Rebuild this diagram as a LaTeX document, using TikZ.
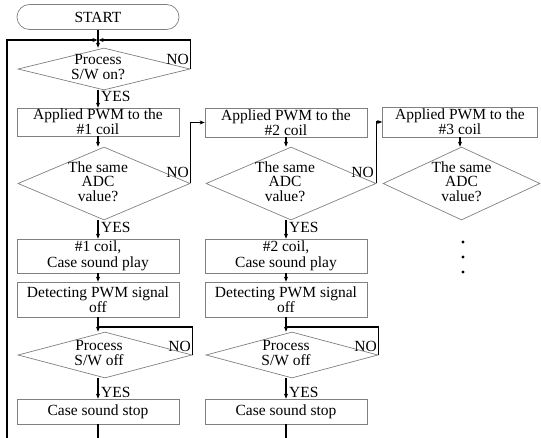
\documentclass[tikz,border=0pt]{standalone}
\usepackage{fontspec}
\setmainfont{Liberation Serif}
\usetikzlibrary{arrows.meta,shapes.geometric}
\newcommand{\dtxt}[2][12pt]{\begin{tabular}{@{}c@{\hspace{#1}}}#2\end{tabular}}

\begin{document}
\begin{tikzpicture}[x=1pt,y=-1pt,>={Stealth[length=5pt,width=4pt]},
  font=\fontsize{15.5}{13.5}\selectfont,
  flow/.style={line width=1.2pt},
  stepbox/.style={draw=black!50,line width=0.7pt,minimum width=162,inner sep=0pt,align=center},
  widebox/.style={stepbox,font=\fontsize{15.5}{15.5}\selectfont},
  decision/.style={diamond,draw=black!50,line width=0.7pt,inner sep=0pt,inner ysep=-3pt},
  tag/.style={inner sep=0pt}]
  \useasboundingbox (0,0) rectangle (541,438);
  % first coil
  \node[stepbox,rounded corners=12.5pt,minimum height=25] (start) at (98,17) {START};
  \node[decision,aspect=4,minimum width=172,minimum height=42] (d1) at (104,69) {\dtxt{Process\\S/W on?}};
  \node[stepbox,minimum height=28] (b1) at (98,122) {Applied PWM to the\\\#1 coil};
  \node[decision,aspect=2.4,minimum width=172,minimum height=73] (d2) at (104,183.5) {\dtxt{The same\\ADC\\value?}};
  \node[widebox,minimum height=34] (b3) at (98,256) {\#1 coil,\\Case sound play};
  \node[stepbox,minimum height=35] (b4) at (98,299.5) {Detecting PWM signal\\off};
  \node[decision,aspect=4,minimum width=174,minimum height=46] (d5) at (105,355) {\dtxt{Process\\S/W off}};
  \node[stepbox,minimum height=25] (b6) at (98,411.5) {Case sound stop};
  % second coil
  \node[stepbox,minimum height=29] (b21) at (286,122.5) {Applied PWM to the\\\#2 coil};
  \node[decision,aspect=2.4,minimum width=170,minimum height=73] (d22) at (291,183.5) {\dtxt{The same\\ADC\\value?}};
  \node[widebox,minimum height=34] (b23) at (286,256) {\#2 coil,\\Case sound play};
  \node[stepbox,minimum height=35] (b24) at (286,299.5) {Detecting PWM signal\\off};
  \node[decision,aspect=4,minimum width=172,minimum height=46] (d25) at (292,355) {\dtxt{Process\\S/W off}};
  \node[stepbox,minimum height=25] (b26) at (286,411.5) {Case sound stop};
  % third coil
  \node[stepbox,minimum width=155,minimum height=30] (b31) at (460,122) {Applied PWM to the\\\#3 coil};
  \node[decision,aspect=2.2,minimum width=157,minimum height=73] (d32) at (461.5,183.5) {\dtxt[0pt]{The same\\ADC\\value?}};
  \foreach \k/\yy in {1/242,2/257,3/272}
    \node[circle,fill,inner sep=0pt,minimum size=3.2] (dot\k) at (463,\yy) {};
  % labels
  \node[tag,anchor=base west] (y1) at (101,102) {YES};
  \node[tag,anchor=base east] (n1) at (189,65) {NO};
  \node[tag,anchor=base west] (y2) at (101,233) {YES};
  \node[tag,anchor=base east] (n2) at (189,178) {NO};
  \node[tag,anchor=base west] (y5) at (101,397) {YES};
  \node[tag,anchor=base east] (n5) at (191,352) {NO};
  \node[tag,anchor=base west] (y22) at (289,233) {YES};
  \node[tag,anchor=base east] (n22) at (374,178) {NO};
  \node[tag,anchor=base west] (y25) at (289,397) {YES};
  \node[tag,anchor=base east] (n25) at (377,352) {NO};
  % free ends
  \coordinate (top) at (98,40);
  \coordinate (back) at (7,438);
  \coordinate (j5) at (98,327);
  \coordinate (j25) at (286,327);
  \coordinate (end1) at (98,438);
  \coordinate (end2) at (286,438);
  % connectors
  \draw[flow,->] (start) -- (start |- d1.north);
  \draw[flow,->,shorten >=0.6pt] (back) |- (top);
  \draw[flow,->,shorten >=0.6pt] (d1.east) |- (top);
  \draw[flow,->] (b1 |- d1.south) -- (b1);
  \draw[flow,->] (b1) -- (b1 |- d2.north);
  \draw[flow,->] (d2.east) |- (b21);
  \draw[flow,->] (b1 |- d2.south) -- (b3);
  \draw[flow,->] (b3) -- (b4);
  \draw[flow,->] (b4) -- (b4 |- d5.north);
  \draw[flow] (d5.east) |- (j5);
  \draw[flow,->] (b4 |- d5.south) -- (b6);
  \draw[flow] (b6) -- (end1);
  \draw[flow,->] (b21) -- (b21 |- d22.north);
  \draw[flow,->] (d22.east) |- (b31);
  \draw[flow,->] (b21 |- d22.south) -- (b23);
  \draw[flow,->] (b23) -- (b24);
  \draw[flow,->] (b24) -- (b24 |- d25.north);
  \draw[flow] (d25.east) |- (j25);
  \draw[flow,->] (b24 |- d25.south) -- (b26);
  \draw[flow] (b26) -- (end2);
  \draw[flow,->] (b31) -- (b31 |- d32.north);
\end{tikzpicture}
\end{document}
